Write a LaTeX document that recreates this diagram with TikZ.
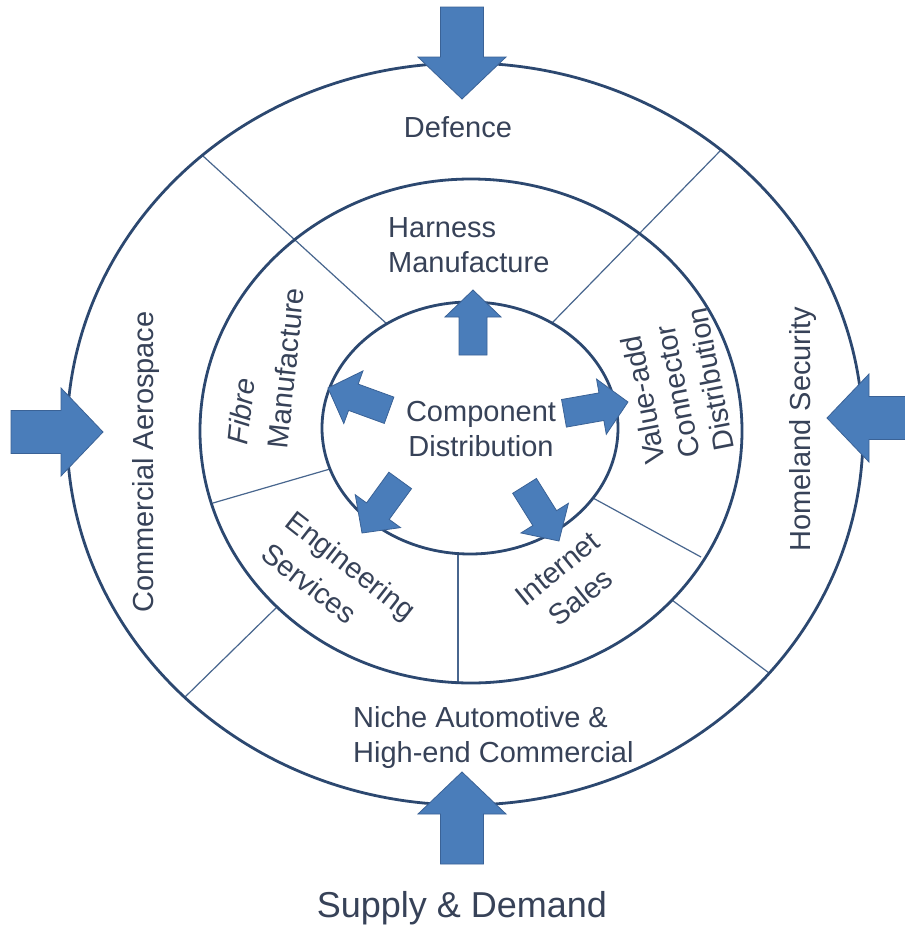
\documentclass[tikz,border=0pt]{standalone}
\usepackage{fontspec}
\setmainfont{Liberation Sans}
\definecolor{ringcol}{RGB}{44,72,112}
\definecolor{divcol}{RGB}{72,102,142}
\definecolor{arrowfill}{RGB}{74,125,186}
\definecolor{arrowdraw}{RGB}{58,98,150}
\definecolor{textcol}{RGB}{55,66,88}
\begin{document}
\begin{tikzpicture}[x=1pt,y=-1pt,
  ring/.style={draw=ringcol, line width=2.8pt},
  divider/.style={draw=divcol, line width=1.2pt},
  arrowstyle/.style={fill=arrowfill, draw=arrowdraw, line width=0.8pt, line join=miter},
  lbl/.style={text=textcol, font=\fontsize{29}{35}\selectfont, inner sep=0pt},
  smallarr/.pic={\path[arrowstyle] (0,0) -- (-27,28) -- (-27,14) -- (-65,14) -- (-65,-14) -- (-27,-14) -- (-27,-28) -- cycle;},
  bigarr/.pic={\path[arrowstyle] (0,0) -- (-42,44) -- (-42,21.5) -- (-92,21.5) -- (-92,-21.5) -- (-42,-21.5) -- (-42,-44) -- cycle;}
]
\clip (0,0) rectangle (905,927);
\fill[white] (0,0) rectangle (905,927);

% divider end points
\coordinate (ulA) at (203,156);
\coordinate (ulB) at (387,324);
\coordinate (urA) at (721,150);
\coordinate (urB) at (552,323);
\coordinate (llA) at (185,697);
\coordinate (llB) at (277,607);
\coordinate (lrA) at (769,673);
\coordinate (lrB) at (672,600);
\coordinate (mlA) at (213,503);
\coordinate (mlB) at (330,469);
\coordinate (mrA) at (701,557);
\coordinate (mrB) at (593,498);
\coordinate (vbA) at (458,554);
\coordinate (vbB) at (458,683);

\draw[divider] (ulA) -- (ulB);
\draw[divider] (urA) -- (urB);
\draw[divider] (llA) -- (llB);
\draw[divider] (lrA) -- (lrB);
\draw[divider] (mlA) -- (mlB);
\draw[divider] (mrA) -- (mrB);
\draw[divider] (vbA) -- (vbB);

% rings
\draw[ring] (465,434) ellipse [x radius=398pt, y radius=371pt];
\draw[ring] (471,431) ellipse [x radius=271pt, y radius=252pt];
\draw[ring] (470,428) ellipse [x radius=148pt, y radius=126pt];

% big arrows
\path (462,99) pic[rotate=270] {bigarr};
\path (103,432) pic[rotate=0] {bigarr};
\path (827,418) pic[rotate=180] {bigarr};
\path (462,772) pic[rotate=90] {bigarr};

% small arrows
\path (473,290) pic[rotate=90] {smallarr};
\path (328,388) pic[rotate=160] {smallarr};
\path (628,402) pic[rotate=10] {smallarr};
\path (362,533) pic[rotate=234] {smallarr};
\path (559,541) pic[rotate=302] {smallarr};

% labels
\node[lbl] (defence) at (458,127) {Defence};
\node[lbl, align=left, anchor=west] (harness) at (388,245) {Harness\\Manufacture};
\node[lbl, align=center] (comp) at (481,429) {Component\\Distribution};
\node[lbl, align=left, anchor=west] (niche) at (353,737) {Niche Automotive \&\\High-end Commercial};
\node[text=textcol, font=\fontsize{36}{43}\selectfont, inner sep=0pt, anchor=base] (supply) at (462,917) {Supply \& Demand};
\node[lbl, rotate=90] (aero) at (146,462) {Commercial Aerospace};
\node[lbl, rotate=90] (home) at (803,429) {Homeland Security};
\node[lbl, rotate=84, align=left, font=\fontsize{29}{40}\selectfont] (fibre) at (266,366) {\textit{Fibre}\\Manufacture};
\node[lbl, rotate=101, align=left] (value) at (676,386) {Value-add\\Connector\\Distribution};
\node[lbl, rotate=-38, align=left, font=\fontsize{29}{40}\selectfont] (eng) at (339,581) {Engineering\\Services};
\node[lbl, rotate=39, align=center, font=\fontsize{29}{37}\selectfont] (net) at (569,583) {Internet\\Sales};
\end{tikzpicture}
\end{document}
